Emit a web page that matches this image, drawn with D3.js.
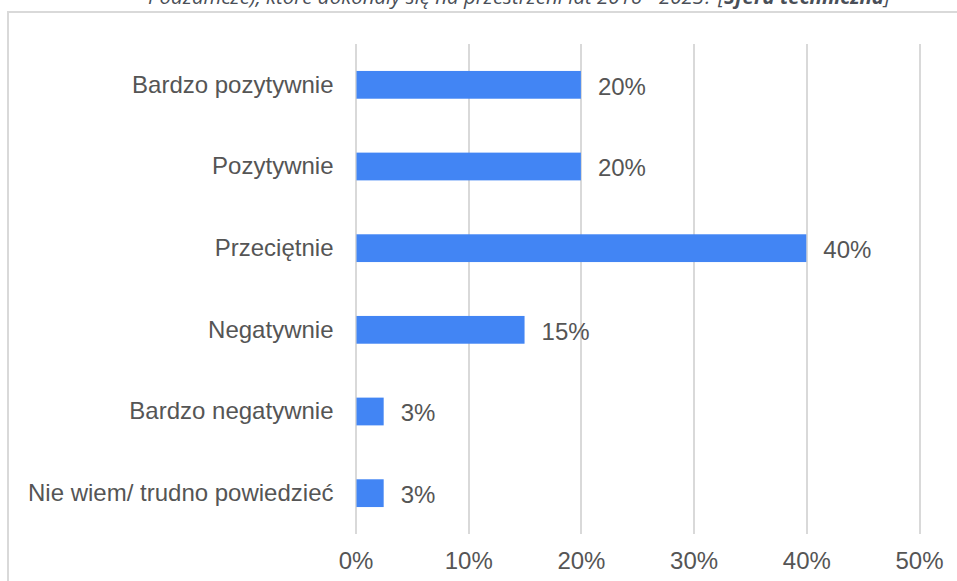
<!DOCTYPE html>
<meta charset="utf-8">
<style>
  body { margin: 0; background: #fff; }
  svg { display: block; }
  .grid line { stroke: #d9d9d9; stroke-width: 2px; shape-rendering: crispEdges; }
  .grid path { display: none; }
  .label, .tick text { font-family: "Liberation Sans", Arial, sans-serif; font-size: 24px; fill: #555; }
</style>

<div class="chart"></div>

<script src="https://cdn.jsdelivr.net/npm/d3@7/dist/d3.min.js"></script>

<script>
    // odpowiedzi i udzialy (w %)
    var categories = ["Bardzo pozytywnie", "Pozytywnie", "Przeciętnie", "Negatywnie", "Bardzo negatywnie", "Nie wiem/ trudno powiedzieć"];
    var values = [20, 20, 40, 15, 2.5, 2.5];
    var valueLabels = ["20%", "20%", "40%", "15%", "3%", "3%"];
    var xTicks = [0, 10, 20, 30, 40, 50];

    var width = 957, height = 581;
    var plot = {left: 355.5, right: 919, top: 44, bottom: 534};

    var svg = d3.select(".chart").append("svg")
        .attr("width", width)
        .attr("height", height);

    // ramka wykresu (wychodzi poza prawa i dolna krawedz)
    svg.append("rect")
        .attr("x", 8)
        .attr("y", 12)
        .attr("width", width + 20)
        .attr("height", height + 20)
        .attr("fill", "none")
        .attr("stroke", "#d9d9d9")
        .attr("stroke-width", 2);

    // tytul, uciety u gory jak w oryginale
    var title = svg.append("text")
        .attr("x", 519)
        .attr("y", 4)
        .attr("text-anchor", "middle")
        .attr("font-family", "'Open Sans', 'Noto Sans', sans-serif")
        .attr("font-style", "italic")
        .attr("font-size", 20)
        .attr("fill", "#4a4f58")
        .attr("textLength", 742)
        .attr("lengthAdjust", "spacingAndGlyphs");
    title.append("tspan").text("Podzamcze), które dokonały się na przestrzeni lat 2016 - 2023? [");
    title.append("tspan").attr("font-weight", "bold").text("Sfera techniczna");
    title.append("tspan").text("]");

    var x = d3.scaleLinear()
        .domain([0, 50])
        .range([plot.left, plot.right]);

    var y = d3.scaleBand()
        .domain(categories)
        .range([plot.top, plot.bottom])
        .paddingInner(0.66)
        .paddingOuter(0.33);

    // linie siatki
    svg.append("g")
        .attr("class", "grid")
        .attr("transform", "translate(0," + plot.bottom + ")")
        .call(d3.axisBottom(x).tickValues(xTicks).tickSize(-(plot.bottom - plot.top)).tickFormat(""));

    // etykiety osi X
    svg.append("g")
        .attr("class", "x axis")
        .attr("transform", "translate(0," + plot.bottom + ")")
        .call(d3.axisBottom(x).tickValues(xTicks).tickSize(0).tickPadding(35).tickFormat((d) => d + "%"))
        .call((g) => g.select(".domain").remove())
        .selectAll("text")
        .attr("dy", 0);

    // slupki
    svg.selectAll(".bar")
        .data(values)
        .enter().append("rect")
        .attr("class", "bar")
        .attr("x", x(0) + 1)
        .attr("y", (d, i) => y(categories[i]))
        .attr("width", (d) => x(d) - x(0) - 1)
        .attr("height", y.bandwidth())
        .attr("fill", "#4285f4");

    // etykiety kategorii
    svg.selectAll(".cat")
        .data(categories)
        .enter().append("text")
        .attr("class", "label cat")
        .attr("x", plot.left - 22)
        .attr("y", (d) => y(d) + y.bandwidth() / 2)
        .attr("dy", "0.32em")
        .attr("text-anchor", "end")
        .text((d) => d);

    // etykiety wartosci
    svg.selectAll(".val")
        .data(values)
        .enter().append("text")
        .attr("class", "label val")
        .attr("x", (d) => x(d) + 17)
        .attr("y", (d, i) => y(categories[i]) + y.bandwidth() / 2 + 2)
        .attr("dy", "0.32em")
        .text((d, i) => valueLabels[i]);
</script>
